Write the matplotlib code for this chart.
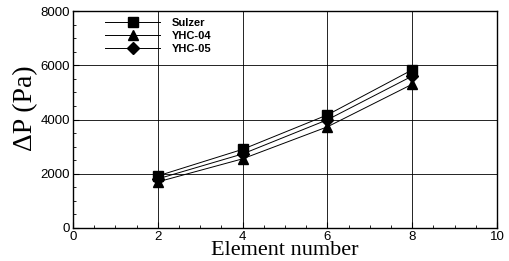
import matplotlib
matplotlib.use("Agg")
import matplotlib.pyplot as plt
from matplotlib.ticker import MultipleLocator

elements = [2, 4, 6, 8]
sulzer = [1920, 2900, 4170, 5830]
yhc04 = [1700, 2550, 3730, 5300]
yhc05 = [1810, 2730, 3990, 5600]
series_names = ["Sulzer", "YHC-04", "YHC-05"]
xticks = [0, 2, 4, 6, 8, 10]
yticks = [0, 2000, 4000, 6000, 8000]

fig = plt.figure(figsize=(5.10, 2.61), dpi=100)
ax = fig.add_axes([73/510, 1-228/261, 424/510, 217/261])

ms = 7.2
ax.plot(elements, sulzer, color="black", lw=0.7, marker="s", ms=ms, label=series_names[0], zorder=3)
ax.plot(elements, yhc04, color="black", lw=0.7, marker="^", ms=ms+0.5, label=series_names[1], zorder=3)
ax.plot(elements, yhc05, color="black", lw=0.7, marker="D", ms=ms-0.8, label=series_names[2], zorder=3)

ax.set_xlim(0, 10)
ax.set_ylim(0, 8000)
ax.set_xticks(xticks)
ax.set_yticks(yticks)
ax.xaxis.set_minor_locator(MultipleLocator(0.5))
ax.yaxis.set_minor_locator(MultipleLocator(500))
ax.grid(True, which="major", color="black", lw=0.6)
ax.set_axisbelow(True)

ax.tick_params(which="both", direction="in", top=False, right=False)
ax.tick_params(which="major", length=4, width=0.8, labelsize=9.5, pad=2)
ax.tick_params(which="minor", length=2.5, width=0.6)
for lbl in ax.get_xticklabels() + ax.get_yticklabels():
    lbl.set_fontfamily("Liberation Sans")
for sp in ax.spines.values():
    sp.set_linewidth(1.0)

ax.set_xlabel("Element number", family="Liberation Serif", fontsize=16, labelpad=-1)
ax.set_ylabel("ΔP (Pa)", family="Liberation Serif", fontsize=20, labelpad=2)
ax.yaxis.label.set_y(0.55)

leg = ax.legend(loc="upper left", bbox_to_anchor=(0.075, 0.97), frameon=False,
                borderpad=0, borderaxespad=0, handlelength=5.0, handletextpad=1.0,
                labelspacing=0.3, prop={"family": "Liberation Sans", "weight": "bold", "size": 8})

fig.savefig("out.png", dpi=100)
